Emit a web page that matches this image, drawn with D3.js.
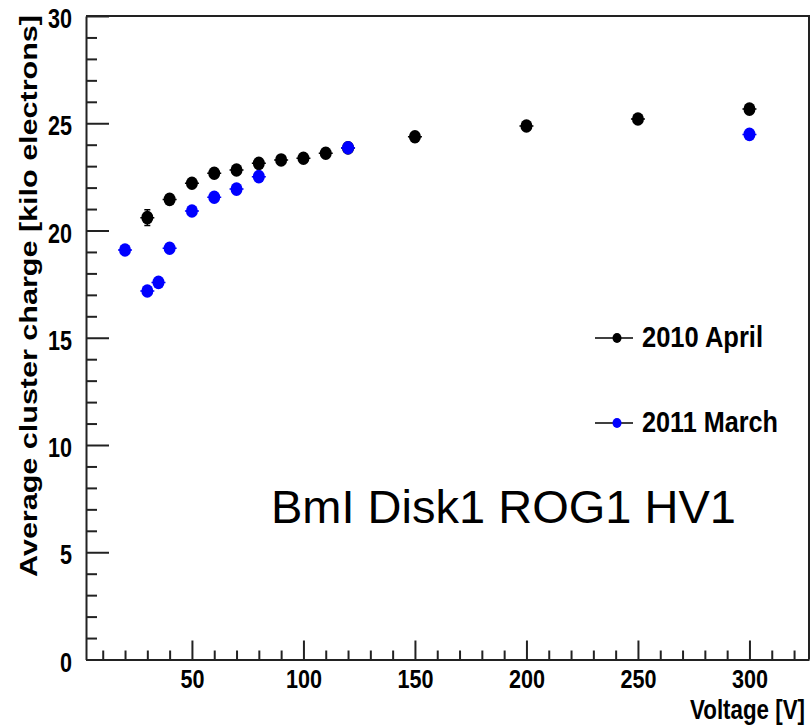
<!DOCTYPE html>
<html>
<head>
<meta charset="utf-8">
<script src="https://cdn.jsdelivr.net/npm/d3@7"></script>
<style>
  body { margin: 0; background: #fff; }
  text { font-family: "Liberation Sans", Arial, sans-serif; }
</style>
</head>
<body>
<div id="chart"></div>
<script>
// data
var voltsApr  = [30, 40, 50, 60, 70, 80, 90, 100, 110, 120, 150, 200, 250, 300];
var chargeApr = [20.6, 21.45, 22.2, 22.67, 22.82, 23.13, 23.29, 23.37, 23.6, 23.85, 24.37, 24.87, 25.2, 25.66];
var errApr    = [0.37, 0.22, 0.2, 0.22, 0.2, 0.22, 0.18, 0.18, 0.22, 0.2, 0.22, 0.2, 0.2, 0.2];

var voltsMar  = [20, 30, 35, 40, 50, 60, 70, 80, 120, 300];
var chargeMar = [19.09, 17.18, 17.58, 19.17, 20.91, 21.55, 21.93, 22.51, 23.86, 24.48];
var errMar    = [0.12, 0.12, 0.12, 0.12, 0.12, 0.12, 0.12, 0.12, 0.12, 0.12];

var xTicks = [50, 100, 150, 200, 250, 300];
var yTicks = [0, 5, 10, 15, 20, 25, 30];
var seriesNames = ["2010 April", "2011 March"];
var seriesColors = ["#000000", "#0000ff"];
var labelText = "BmI Disk1 ROG1 HV1";

var W = 811, H = 725;
var margin = {left: 86, right: 809, top: 16, bottom: 659.5};

var svg = d3.select("#chart").append("svg")
    .attr("width", W)
    .attr("height", H);

svg.append("rect").attr("width", W).attr("height", H).attr("fill", "#fff");

var x = d3.scaleLinear().domain([2.5, 326.7]).range([margin.left, margin.right]);
var y = d3.scaleLinear().domain([0, 30]).range([margin.bottom, margin.top]);

// squeeze bold labels like the original narrow font
function condense(sel, perChar) {
    sel.each(function () {
        var t = d3.select(this);
        t.attr("textLength", t.text().length * perChar).attr("lengthAdjust", "spacingAndGlyphs");
    });
}

// frame top + right
svg.append("path")
    .attr("d", "M" + margin.left + "," + margin.top + "H" + margin.right + "V" + margin.bottom)
    .attr("fill", "none").attr("stroke", "#222").attr("stroke-width", 2);

// x axis, minor ticks every 10 V
var xMinor = d3.range(10, 330, 10).filter(v => xTicks.indexOf(v) < 0);
svg.append("g")
    .attr("transform", "translate(0," + margin.bottom + ")")
    .call(d3.axisBottom(x).tickValues(xMinor).tickSize(-9).tickSizeOuter(0).tickFormat(""))
    .call(g => g.select(".domain").remove())
    .selectAll("line").attr("stroke", "#222").attr("stroke-width", 2);

var gx = svg.append("g")
    .attr("transform", "translate(0," + margin.bottom + ")")
    .call(d3.axisBottom(x).tickValues(xTicks).tickSize(-19).tickSizeOuter(0));
gx.select(".domain").attr("stroke", "#222").attr("stroke-width", 2);
gx.selectAll("line").attr("stroke", "#222").attr("stroke-width", 2);
gx.selectAll("text")
    .attr("y", 28.5).attr("dy", null)
    .attr("fill", "#000")
    .style("font-size", "26px").style("font-weight", "bold")
    .call(condense, 12);

// y axis, minor ticks every 1
var yMinor = d3.range(1, 30, 1).filter(v => v % 5 !== 0);
svg.append("g")
    .attr("transform", "translate(" + margin.left + ",0)")
    .call(d3.axisLeft(y).tickValues(yMinor).tickSize(-11).tickSizeOuter(0).tickFormat(""))
    .call(g => g.select(".domain").remove())
    .selectAll("line").attr("stroke", "#222").attr("stroke-width", 2);

var gy = svg.append("g")
    .attr("transform", "translate(" + margin.left + ",0)")
    .call(d3.axisLeft(y).tickValues(yTicks).tickSize(-23).tickSizeOuter(0).tickPadding(14));
gy.select(".domain").attr("stroke", "#222").attr("stroke-width", 2);
gy.selectAll("line").attr("stroke", "#222").attr("stroke-width", 2);
gy.selectAll("text")
    .attr("dy", 11.5)
    .attr("fill", "#000")
    .style("font-size", "28px").style("font-weight", "bold")
    .call(condense, 12);

// axis titles
svg.append("text")
    .attr("x", 805).attr("y", 719)
    .attr("text-anchor", "end")
    .style("font-size", "27px").style("font-weight", "bold")
    .attr("textLength", 115).attr("lengthAdjust", "spacingAndGlyphs")
    .text("Voltage [V]");

svg.append("text")
    .attr("transform", "translate(37,15) rotate(-90)")
    .attr("text-anchor", "end")
    .style("font-size", "23px").style("font-weight", "bold")
    .attr("textLength", 562).attr("lengthAdjust", "spacingAndGlyphs")
    .text("Average cluster charge [kilo electrons]");

// points with error bars
function drawSeries(vs, cs, es, color) {
    var g = svg.append("g");
    var d = vs.map((v, i) => ({v: v, c: cs[i], e: es[i]}));
    g.selectAll(".err").data(d).enter().append("path")
        .attr("d", p => {
            var xx = x(p.v), y1 = y(p.c + p.e), y2 = y(p.c - p.e);
            return "M" + xx + "," + y1 + "V" + y2 +
                "M" + (xx - 3) + "," + y1 + "H" + (xx + 3) +
                "M" + (xx - 3) + "," + y2 + "H" + (xx + 3) +
                "M" + (xx - 7) + "," + y(p.c) + "H" + (xx + 7);
        })
        .attr("stroke", color).attr("stroke-width", 1.5).attr("fill", "none");
    g.selectAll("ellipse").data(d).enter().append("ellipse")
        .attr("cx", p => x(p.v))
        .attr("cy", p => y(p.c))
        .attr("rx", 6).attr("ry", 6.8)
        .attr("fill", color);
}
drawSeries(voltsApr, chargeApr, errApr, seriesColors[0]);
drawSeries(voltsMar, chargeMar, errMar, seriesColors[1]);

// legend
var legY = [338, 423];
var leg = svg.append("g").selectAll("g").data(seriesNames).enter().append("g")
    .attr("transform", (d, i) => "translate(0," + legY[i] + ")");
leg.append("line").attr("x1", 595).attr("x2", 633)
    .attr("stroke", "#000").attr("stroke-width", 1.5);
leg.append("ellipse").attr("cx", 617).attr("rx", 4.5).attr("ry", 5)
    .attr("fill", (d, i) => seriesColors[i]);
leg.append("text")
    .attr("x", 642).attr("y", 9)
    .style("font-size", "30px").style("font-weight", "bold")
    .attr("textLength", (d, i) => i === 0 ? 121 : 136)
    .attr("lengthAdjust", "spacingAndGlyphs")
    .text(d => d);

// detector label
svg.append("text")
    .attr("x", 271).attr("y", 523)
    .style("font-size", "47px")
    .text(labelText);
</script>
</body>
</html>
